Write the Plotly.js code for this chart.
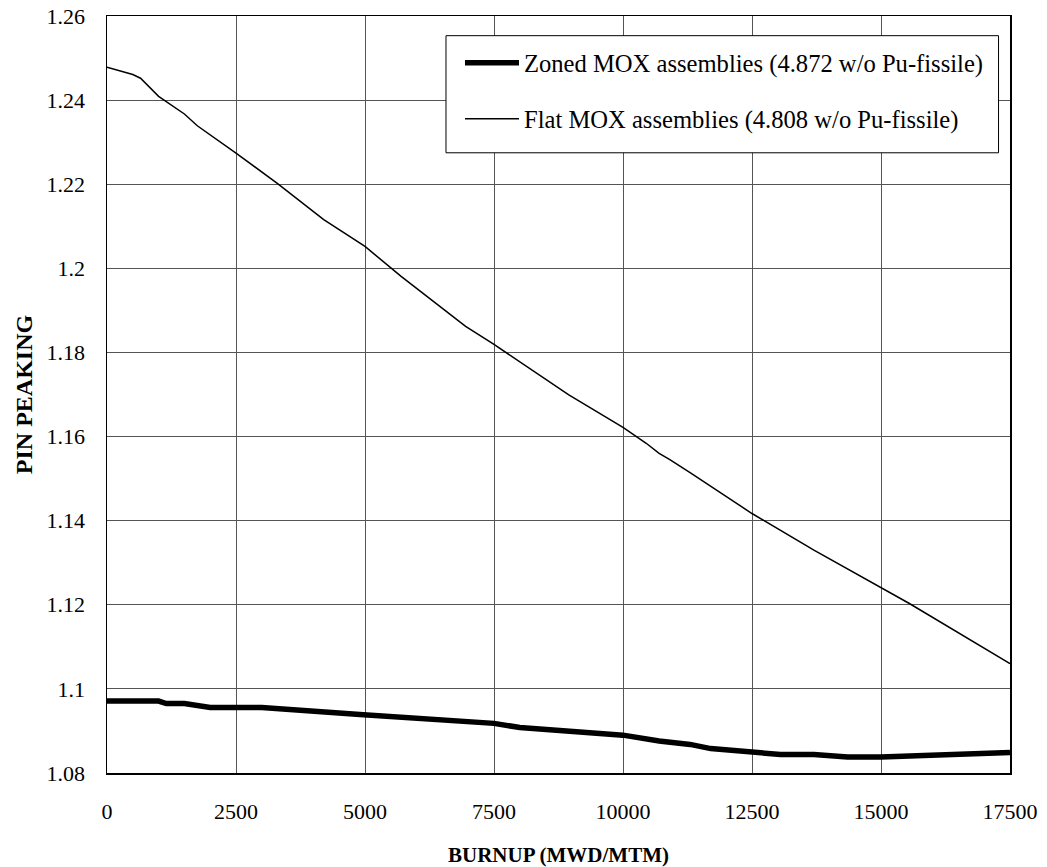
<!DOCTYPE html>
<html>
<head>
<meta charset="utf-8">
<script src="https://cdn.plot.ly/plotly-3.0.1.min.js"></script>
<style>
  html, body { margin: 0; padding: 0; background: #fff; }
  #chart { width: 1047px; height: 867px; }
</style>
</head>
<body>
<div id="chart"></div>
<script>
// Burnup (MWD/MTM) and pin peaking values
const zonedBurnup = [0, 1000, 1150, 1500, 2000, 3000, 4900, 6850, 7500, 8000, 9000, 9550, 10000, 10700, 11300, 11700, 12500, 12750, 13050, 13700, 14350, 15000, 17500];
const zonedPeaking = [1.0971, 1.0971, 1.0965, 1.0965, 1.0956, 1.0956, 1.0939, 1.0923, 1.0918, 1.0908, 1.0900, 1.0894, 1.0890, 1.0876, 1.0868, 1.0858, 1.0849, 1.0849, 1.0844, 1.0844, 1.0838, 1.0838, 1.0849];

const flatBurnup = [0, 500, 650, 830, 1000, 1500, 1750, 2500, 3300, 4200, 5000, 5700, 6950, 7500, 8950, 10000, 10450, 10700, 10900, 11300, 12500, 13700, 15000, 15550, 17500];
const flatPeaking = [1.2478, 1.2461, 1.2452, 1.2430, 1.2409, 1.2367, 1.2339, 1.2274, 1.2202, 1.2116, 1.2052, 1.1981, 1.1862, 1.1819, 1.1699, 1.1622, 1.1584, 1.1560, 1.1546, 1.1514, 1.1417, 1.1330, 1.1241, 1.1203, 1.1060];

const seriesNames = [
  "Zoned MOX assemblies (4.872 w/o Pu-fissile)",
  "Flat MOX assemblies (4.808 w/o Pu-fissile)"
];

const xTickVals = [0, 2500, 5000, 7500, 10000, 12500, 15000, 17500];
const xTickText = ["0", "2500", "5000", "7500", "10000", "12500", "15000", "17500"];
const yTickVals = [1.08, 1.10, 1.12, 1.14, 1.16, 1.18, 1.20, 1.22, 1.24, 1.26];
const yTickText = ["1.08", "1.1", "1.12", "1.14", "1.16", "1.18", "1.2", "1.22", "1.24", "1.26"];

const xTitle = "BURNUP (MWD/MTM)";
const yTitle = "PIN PEAKING";

const FONT = "Liberation Serif";

const traces = [
  {
    x: zonedBurnup, y: zonedPeaking, name: seriesNames[0],
    type: "scatter", mode: "lines",
    line: { color: "#000", width: 5.5 },
    legendgroup: "a"
  },
  {
    x: flatBurnup, y: flatPeaking, name: seriesNames[1],
    type: "scatter", mode: "lines",
    line: { color: "#000", width: 1.5 },
    legendgroup: "b"
  }
];

const layout = {
  width: 1047, height: 867,
  margin: { l: 107, r: 37, t: 16, b: 94, pad: 0 },
  paper_bgcolor: "#fff", plot_bgcolor: "#fff",
  font: { family: FONT, size: 22, color: "#000" },
  showlegend: true,
  // legend frame (white box with black border) drawn behind the legend entries
  shapes: [{
    type: "rect", xref: "paper", yref: "paper",
    x0: 0.3754, x1: 0.9873, y0: 0.8193, y1: 0.974,
    fillcolor: "#fff", line: { color: "#000", width: 1 },
    layer: "above"
  }],
  legend: {
    x: 0.3909, y: 0.968, xanchor: "left", yanchor: "top",
    bgcolor: "rgba(0,0,0,0)", borderwidth: 0,
    font: { family: FONT, size: 24.6, color: "#000" },
    itemwidth: 54, tracegroupgap: 21,
    traceorder: "grouped"
  },
  xaxis: {
    range: [0, 17500],
    tickvals: xTickVals, ticktext: xTickText,
    showgrid: true, gridcolor: "#555", gridwidth: 1,
    zeroline: false,
    showline: true, linecolor: "#000", linewidth: 1.5, mirror: true,
    ticks: "outside", ticklen: 18, tickcolor: "rgba(0,0,0,0)",
    tickfont: { family: FONT, size: 22, color: "#000" },
    title: { text: "<b>" + xTitle + "</b>", font: { family: FONT, size: 21, color: "#000" }, standoff: 27 }
  },
  yaxis: {
    range: [1.08, 1.26],
    tickvals: yTickVals, ticktext: yTickText,
    showgrid: true, gridcolor: "#555", gridwidth: 1,
    zeroline: false,
    showline: true, linecolor: "#000", linewidth: 1.5, mirror: true,
    ticks: "outside", ticklen: 16, tickcolor: "rgba(0,0,0,0)",
    tickfont: { family: FONT, size: 22, color: "#000" },
    title: { text: "<b>" + yTitle + "</b>", font: { family: FONT, size: 24, color: "#000" }, standoff: 7 }
  }
};

Plotly.newPlot("chart", traces, layout, { displayModeBar: false, staticPlot: true });
</script>
</body>
</html>
